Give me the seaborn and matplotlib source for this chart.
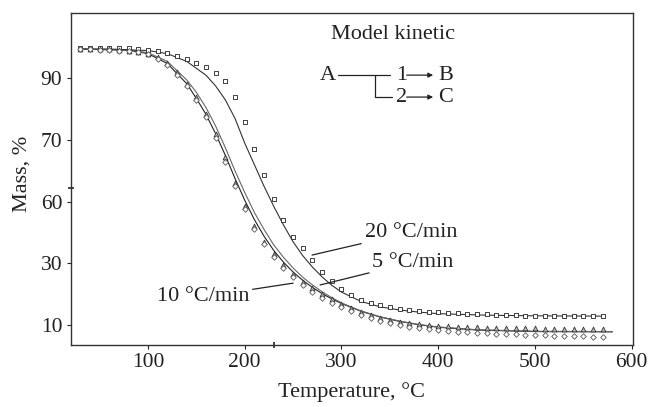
import numpy as np
import pandas as pd
import matplotlib
matplotlib.use("Agg")
import matplotlib.pyplot as plt
import seaborn as sns

# ---- data ----
T_exp = [30, 40, 50, 60, 70, 80, 90, 100, 110, 120, 130, 140, 150, 160, 170, 180, 190,
         200, 210, 220, 230, 240, 250, 260, 270, 280, 290, 300, 310, 320, 330, 340, 350,
         360, 370, 380, 390, 400, 410, 420, 430, 440, 450, 460, 470, 480, 490, 500, 510,
         520, 530, 540, 550, 560, 570]

m20 = [99.7, 99.8, 99.8, 99.9, 99.9, 99.8, 99.6, 99.3, 98.8, 98.2, 97.3, 96.3, 95.0, 93.6,
       91.8, 89.0, 84.0, 76.0, 67.0, 58.5, 51.0, 44.2, 38.6, 35.0, 31.0, 27.3, 24.2, 21.6,
       19.6, 18.2, 17.2, 16.4, 15.8, 15.3, 14.9, 14.6, 14.3, 14.1, 13.9, 13.8, 13.7, 13.6,
       13.5, 13.4, 13.3, 13.2, 13.1, 13.1, 13.0, 13.0, 12.9, 12.9, 12.9, 12.8, 12.8]

m10 = [99.6, 99.6, 99.5, 99.4, 99.2, 99.0, 98.6, 98.0, 96.8, 95.0, 92.0, 88.3, 84.0, 78.5,
       72.0, 64.5, 56.0, 48.5, 42.0, 37.0, 33.0, 29.5, 26.5, 24.0, 22.0, 20.0, 18.3, 16.8,
       15.4, 14.2, 13.2, 12.3, 11.6, 11.0, 10.6, 10.3, 10.0, 9.8, 9.6, 9.5, 9.4, 9.3, 9.2,
       9.1, 9.0, 9.0, 8.9, 8.9, 8.8, 8.8, 8.8, 8.7, 8.7, 8.7, 8.6]

m5 = [99.4, 99.4, 99.3, 99.2, 99.0, 98.8, 98.4, 97.8, 96.4, 94.4, 91.2, 87.4, 83.0, 77.5,
      70.8, 63.0, 55.0, 47.5, 41.2, 36.2, 32.2, 28.6, 25.6, 23.0, 20.8, 18.9, 17.2, 15.8,
      14.5, 13.3, 12.3, 11.4, 10.6, 10.0, 9.5, 9.1, 8.7, 8.4, 8.1, 7.9, 7.7, 7.5, 7.3,
      7.2, 7.1, 7.0, 6.9, 6.8, 6.7, 6.6, 6.5, 6.4, 6.3, 6.2, 6.1]

T_mod20 = [30, 60, 100, 120, 140, 160, 170, 180, 190, 200, 210, 220, 230, 240, 250, 260,
           270, 280, 290, 300, 320, 340, 360, 380, 400, 450, 500, 570]
mod20 = [99.5, 99.5, 99.0, 98.0, 95.5, 91.0, 87.5, 83.0, 77.0, 69.0, 62.0, 55.0, 48.5,
         42.5, 37.0, 32.5, 28.8, 25.6, 22.9, 20.7, 17.7, 15.9, 14.9, 14.2, 13.7, 13.2,
         13.0, 12.9]

T_mod = [30, 80, 100, 120, 140, 150, 160, 170, 180, 190, 200, 210, 220, 230, 240, 250,
         260, 270, 280, 290, 300, 320, 340, 360, 380, 400, 440, 500, 580]
mod10 = [99.5, 99.2, 98.3, 95.5, 89.5, 85.5, 80.5, 74.5, 67.5, 60.0, 53.0, 46.5, 41.0,
         36.0, 32.0, 28.5, 25.5, 23.0, 20.8, 18.9, 17.2, 14.6, 12.7, 11.3, 10.2, 9.4,
         8.5, 8.0, 7.9]
mod5 = [99.5, 99.1, 98.0, 94.8, 88.3, 83.5, 78.3, 72.0, 65.0, 57.5, 50.5, 44.2, 38.8,
        34.2, 30.4, 27.2, 24.5, 22.2, 20.2, 18.5, 17.0, 14.5, 12.6, 11.2, 10.1, 9.3,
        8.4, 7.9, 7.8]

x_ticks = [100, 200, 300, 400, 500, 600]
x_minor = [230]
y_tick_pos = [10, 30, 50, 70, 90]
y_tick_labels = ["10", "30", "60", "70", "90"]
y_minor = [54.4]

# ---- style ----
sns.set_theme(style="ticks")
plt.rcParams["font.family"] = ["Liberation Serif", "DejaVu Serif"]
plt.rcParams["mathtext.fontset"] = "stix"

fig = plt.figure(figsize=(6.53, 4.07), dpi=100)
ax = fig.add_axes([0.108, 0.152, 0.861, 0.817])

exp = pd.DataFrame({"T": T_exp, "m20": m20, "m10": m10, "m5": m5})
mod_a = pd.DataFrame({"T": T_mod20, "m": mod20})
mod_b = pd.DataFrame({"T": T_mod, "m10": mod10, "m5": mod5})

# model lines
sns.lineplot(data=mod_b, x="T", y="m5", ax=ax, color="#222222", lw=0.8, zorder=2)
sns.lineplot(data=mod_b, x="T", y="m10", ax=ax, color="#666666", lw=0.8, zorder=2)
sns.lineplot(data=mod_a, x="T", y="m", ax=ax, color="#333333", lw=0.8, zorder=2)

# experimental points
sns.scatterplot(data=exp, x="T", y="m20", ax=ax, marker="s", s=11,
                facecolor="white", edgecolor="#222222", linewidth=0.6, zorder=3)
sns.scatterplot(data=exp, x="T", y="m10", ax=ax, marker="^", s=12,
                facecolor="#bbbbbb", edgecolor="#333333", linewidth=0.6, zorder=3)
sns.scatterplot(data=exp, x="T", y="m5", ax=ax, marker="D", s=8,
                facecolor="white", edgecolor="#555555", linewidth=0.6, zorder=3)

ax.set_xlim(20, 601)
ax.set_ylim(3.5, 111.3)
ax.set_xticks(x_ticks)
ax.set_xticks(x_minor, minor=True)
ax.set_yticks(y_tick_pos)
ax.set_yticklabels(y_tick_labels)
ax.set_yticks(y_minor, minor=True)
ax.tick_params(which="major", direction="out", length=3, width=0.8, labelsize=15.5,
               colors="#222222", pad=3)
ax.tick_params(which="minor", direction="inout", length=4, width=1.2, colors="#222222")
for s in ax.spines.values():
    s.set_visible(True)
    s.set_linewidth(1.0)
    s.set_color("#333333")
ax.set_xlabel("Temperature, °C", fontsize=16, color="#222222", labelpad=7)
ax.set_ylabel("Mass, %", fontsize=16, color="#222222")
ax.yaxis.set_label_coords(-0.069, 0.515)

# kinetic scheme
tf = ax.transAxes
ax.text(0.573, 0.933, "Model kinetic", transform=tf, ha="center", va="center",
        fontsize=16, color="#222222")
ax.text(0.457, 0.812, "A", transform=tf, ha="center", va="center", fontsize=16, color="#222222")
ax.plot([0.475, 0.568], [0.812, 0.812], transform=tf, color="#222222", lw=0.9)
ax.plot([0.541, 0.541, 0.571], [0.812, 0.746, 0.746], transform=tf, color="#222222", lw=0.9)
for yy, num, let in [(0.812, "1", "B"), (0.746, "2", "C")]:
    ax.text(0.589, yy, num, transform=tf, ha="center", va="center", fontsize=16, color="#222222")
    ax.annotate("", xy=(0.645, yy), xytext=(0.598, yy), xycoords=tf, textcoords=tf,
                arrowprops=dict(arrowstyle="-|>", lw=0.9, color="#222222",
                                mutation_scale=7, shrinkA=0, shrinkB=0))
    ax.text(0.667, yy, let, transform=tf, ha="center", va="center", fontsize=16, color="#222222")

# curve labels
arrow = dict(arrowstyle="-", lw=0.9, color="#222222", shrinkA=0, shrinkB=0)
ax.annotate("20 °C/min", xy=(269.6, 32.7), xytext=(0.523, 0.34), textcoords=tf,
            ha="left", va="center", fontsize=16, color="#222222", arrowprops=arrow)
ax.annotate("5 °C/min", xy=(277.9, 23.0), xytext=(0.537, 0.25), textcoords=tf,
            ha="left", va="center", fontsize=16, color="#222222", arrowprops=arrow)
ax.annotate("10 °C/min", xy=(250.0, 23.6), xytext=(0.318, 0.145), textcoords=tf,
            ha="right", va="center", fontsize=16, color="#222222", arrowprops=arrow)

fig.savefig("out.png", dpi=100)
